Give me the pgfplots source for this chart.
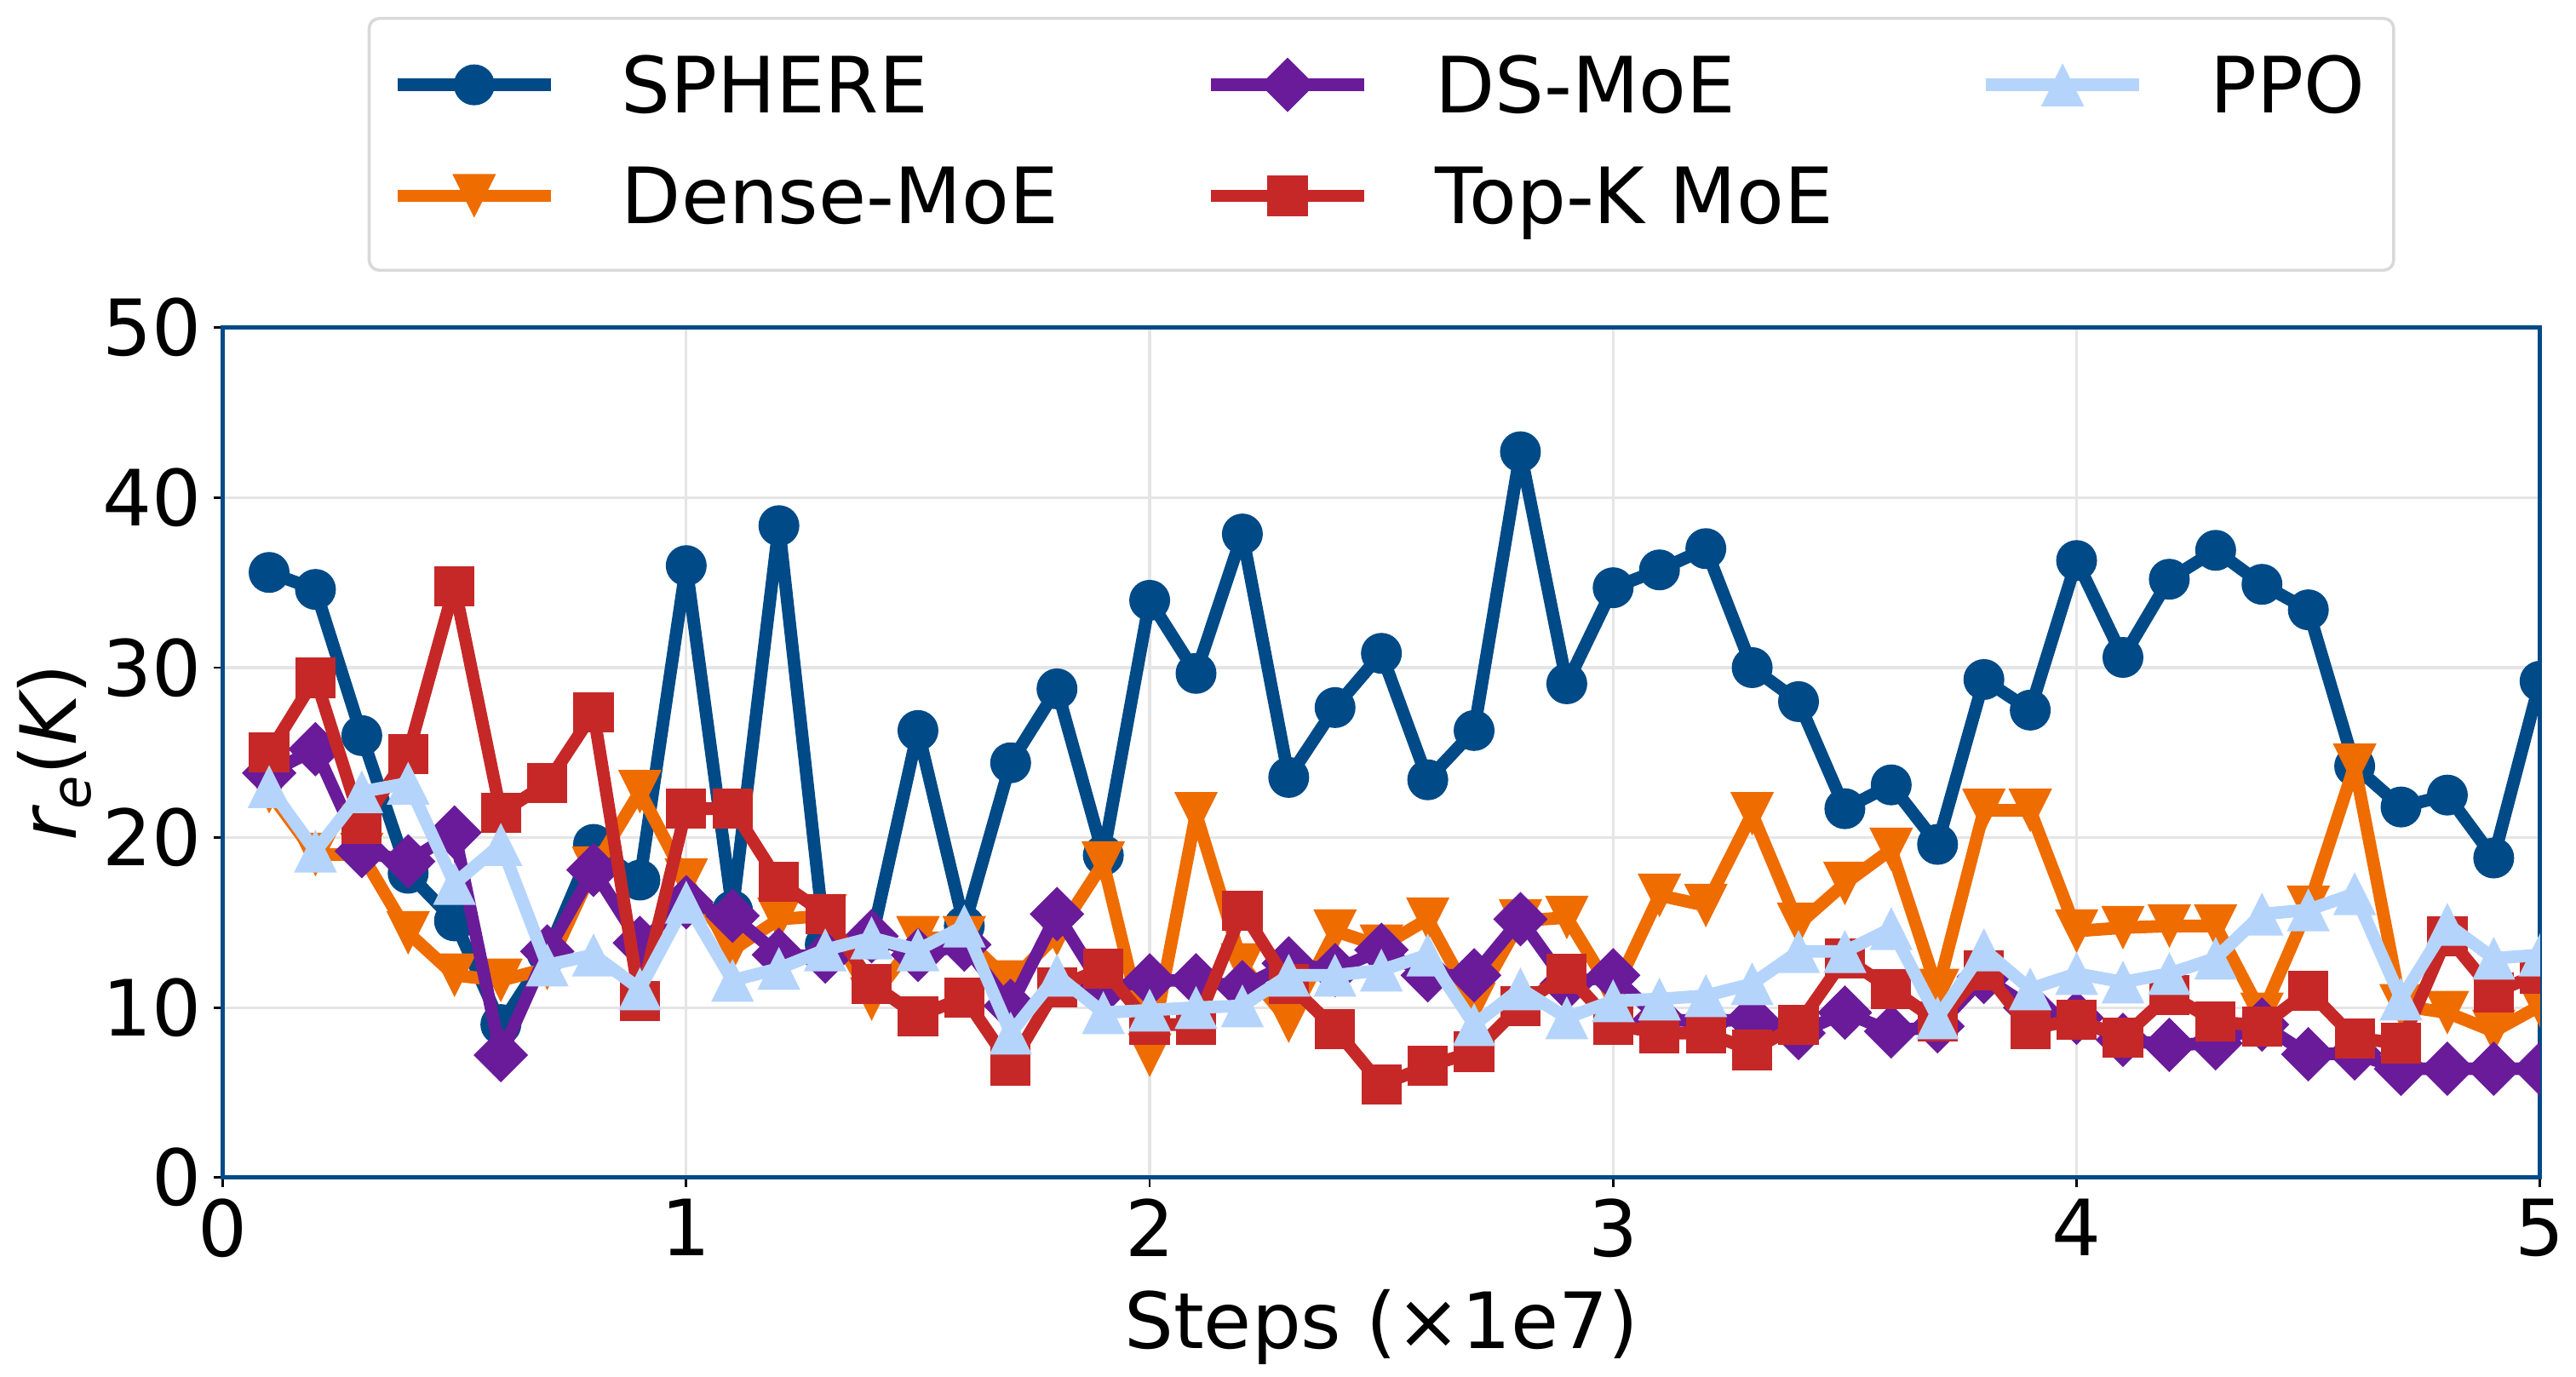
\documentclass[border=0pt]{standalone}
\usepackage{fontspec}
\setmainfont{DejaVu Sans}
\usepackage{pgfplots}
\usepackage{pgfplotstable}
\pgfplotsset{compat=1.18}

\definecolor{csphere}{HTML}{004A87}
\definecolor{cdense}{HTML}{EF6C00}
\definecolor{cds}{HTML}{6A1B9A}
\definecolor{ctopk}{HTML}{C62828}
\definecolor{cppo}{HTML}{B5D4FC}

\pgfdeclareplotmark{mcirc}{\pgfpathcircle{\pgfpointorigin}{\pgfplotmarksize}\pgfusepathqfill}
\pgfdeclareplotmark{msq}{\pgfpathrectangle{\pgfqpoint{-\pgfplotmarksize}{-\pgfplotmarksize}}{\pgfqpoint{2\pgfplotmarksize}{2\pgfplotmarksize}}\pgfusepathqfill}
\pgfdeclareplotmark{mdia}{\pgfpathmoveto{\pgfqpoint{0pt}{\pgfplotmarksize}}\pgfpathlineto{\pgfqpoint{\pgfplotmarksize}{0pt}}\pgfpathlineto{\pgfqpoint{0pt}{-\pgfplotmarksize}}\pgfpathlineto{\pgfqpoint{-\pgfplotmarksize}{0pt}}\pgfpathclose\pgfusepathqfill}
\pgfdeclareplotmark{mtriup}{\pgfpathmoveto{\pgfqpoint{0pt}{\pgfplotmarksize}}\pgfpathlineto{\pgfqpoint{\pgfplotmarksize}{-\pgfplotmarksize}}\pgfpathlineto{\pgfqpoint{-\pgfplotmarksize}{-\pgfplotmarksize}}\pgfpathclose\pgfusepathqfill}
\pgfdeclareplotmark{mtridown}{\pgfpathmoveto{\pgfqpoint{0pt}{-\pgfplotmarksize}}\pgfpathlineto{\pgfqpoint{\pgfplotmarksize}{\pgfplotmarksize}}\pgfpathlineto{\pgfqpoint{-\pgfplotmarksize}{\pgfplotmarksize}}\pgfpathclose\pgfusepathqfill}

\pgfplotstableread{
x    sphere dense  ds    topk   ppo
0.1  35.6   22.7   23.8  25.0   23.0
0.2  34.6   19.0   25.2  29.4   19.2
0.3  26.0   19.0   19.2  20.8   22.7
0.4  17.9   14.4   18.6  24.9   23.2
0.5  15.1   11.9   20.3  34.8   17.3
0.6   9.0   11.6    7.2  21.45  19.6
0.7  13.2   12.3   13.3  23.2   12.5
0.8  19.6   18.2   18.1  27.35  13.1
0.9  17.5   22.7   13.8  10.4   11.1
1.0  36.0   17.5   16.2  21.7   16.2
1.1  15.7   13.4   15.4  21.7   11.6
1.2  38.35  15.2   13.1  17.4   12.3
1.3  13.7   15.4   13.0  15.5   13.4
1.4  14.0   10.5   14.2  11.4   14.1
1.5  26.3   14.1   13.1   9.5   13.4
1.6  14.8   14.1   13.7  10.6   14.8
1.7  24.4   11.5   10.1   6.6    8.5
1.8  28.75  14.3   15.5  11.2   11.9
1.9  18.96  18.5   11.1  12.3    9.7
2.0  33.96   7.2   11.6   9.0    9.85
2.1  29.66  21.4   11.6   9.0   10.0
2.2  37.86  12.5   11.2  15.7   10.1
2.3  23.54   9.2   12.6  11.4   11.9
2.4  27.65  14.5   12.2   8.75  11.9
2.5  30.84  13.6   13.4   5.46  12.2
2.6  23.4   15.2   11.9   6.56  13.1
2.7  26.3   10.2   11.9   7.4    9.0
2.8  42.7   15.1   15.2  10.1   11.1
2.9  29.05  15.3   11.4  12.0    9.4
3.0  34.7   10.8   11.9   9.0   10.4
3.1  35.75  16.6    9.3   8.5   10.5
3.2  37.0   16.0    9.2   8.5   10.7
3.3  30.0   21.4    9.3   7.5   11.4
3.4  28.0   14.9    8.5   9.0   13.3
3.5  21.7   17.3    9.7  12.9   13.3
3.6  23.1   19.3    8.6  11.1   14.65
3.7  19.6   11.0    8.9   9.2    9.4
3.8  29.3   21.6   11.8  12.2   13.4
3.9  27.5   21.6   10.0   8.75  11.1
4.0  36.3   14.5    9.4   9.3   12.0
4.1  30.6   14.7    8.1   8.25  11.5
4.2  35.2   14.8    7.8  10.75  12.0
4.3  36.9   14.8    7.9   9.2   12.9
4.4  34.9    9.6    9.0   8.9   15.5
4.5  33.4   15.9    7.25 11.0   15.75
4.6  24.2   24.25   7.3   8.2   16.7
4.7  21.8   10.1    6.4   7.9   10.5
4.8  22.5    9.7    6.4  14.2   14.9
4.9  18.8    8.6    6.4  10.9   12.9
5.0  29.2   10.1    6.4  12.0   13.1
}\datatable

\newcommand{\fs}{\fontsize{22.8}{27}\selectfont}

\begin{document}
\begin{tikzpicture}
\begin{axis}[
  scale only axis,
  width=680.3pt, height=249.5pt,
  xmin=0, xmax=5, ymin=0, ymax=50,
  xtick={0,1,2,3,4,5},
  ytick={0,10,20,30,40,50},
  tick pos=left,
  tick align=outside,
  major tick length=2.75pt,
  tick style={black, line width=0.7pt},
  axis line style={draw=csphere, line width=1.3pt},
  grid=major,
  grid style={draw=black!10, line width=0.8pt},
  tick label style={font=\fs, inner sep=3.3pt},
  /pgf/number format/assume math mode=true,
  label style={font=\fs},
  xlabel={Steps (×1e7)},
  ylabel={{\itshape r}\raisebox{-0.18em}{\fontsize{16}{18}\selectfont\itshape e}({\itshape K})},
  x label style={at={(axis description cs:0.5,-0.2014)}, anchor=base},
  y label style={at={(axis description cs:-0.0631,0.5)}, anchor=base, rotate=0},
  clip marker paths=true,
  every axis plot/.append style={line join=round},
  legend columns=3,
  legend cell align=left,
  legend style={
    at={(axis description cs:0.5,1)}, anchor=south, yshift=16.4pt,
    draw=black!15, line width=0.9pt, rounded corners=3pt, fill=white,
    inner xsep=6.5pt, inner ysep=8.85pt,
    font=\fs,
    nodes={inner sep=2pt, text depth=2.9pt},
    row sep=8.9pt,
    /tikz/every odd column/.append style={column sep=16.9pt},
    /tikz/every even column/.append style={column sep=41pt},
  },
  legend image code/.code={\draw[yshift=1.25pt,mark repeat=2,mark phase=2,#1] plot coordinates {(0pt,0pt) (22.5pt,0pt) (45pt,0pt)};},
]
\addplot[forget plot, color=csphere, line width=3.7pt, mark=mcirc, mark size=6pt] table[x=x,y=sphere]{\datatable};
\addplot[forget plot, color=cdense, line width=3.7pt, mark=mtridown, mark size=6.4pt] table[x=x,y=dense]{\datatable};
\addplot[forget plot, color=cds, line width=3.7pt, mark=mdia, mark size=8pt] table[x=x,y=ds]{\datatable};
\addplot[forget plot, color=ctopk, line width=3.7pt, mark=msq, mark size=5.9pt] table[x=x,y=topk]{\datatable};
\addplot[forget plot, color=cppo, line width=3.7pt, mark=mtriup, mark size=6.3pt] table[x=x,y=ppo]{\datatable};

\addlegendimage{color=csphere, line width=3.7pt, mark=mcirc, mark size=6pt}
\addlegendentry{SPHERE}
\addlegendimage{color=cds, line width=3.7pt, mark=mdia, mark size=8pt}
\addlegendentry{DS-MoE}
\addlegendimage{color=cppo, line width=3.7pt, mark=mtriup, mark size=6.3pt}
\addlegendentry{PPO}
\addlegendimage{color=cdense, line width=3.7pt, mark=mtridown, mark size=6.4pt}
\addlegendentry{Dense-MoE}
\addlegendimage{color=ctopk, line width=3.7pt, mark=msq, mark size=5.9pt}
\addlegendentry{Top-K MoE}
\end{axis}
\path (current axis.south west) ++(-65.4pt,-57.65pt) coordinate (bbA);
\path (current axis.north east) ++(10.5pt,96.2pt) coordinate (bbB);
\path (bbA) rectangle (bbB);
\end{tikzpicture}
\end{document}
